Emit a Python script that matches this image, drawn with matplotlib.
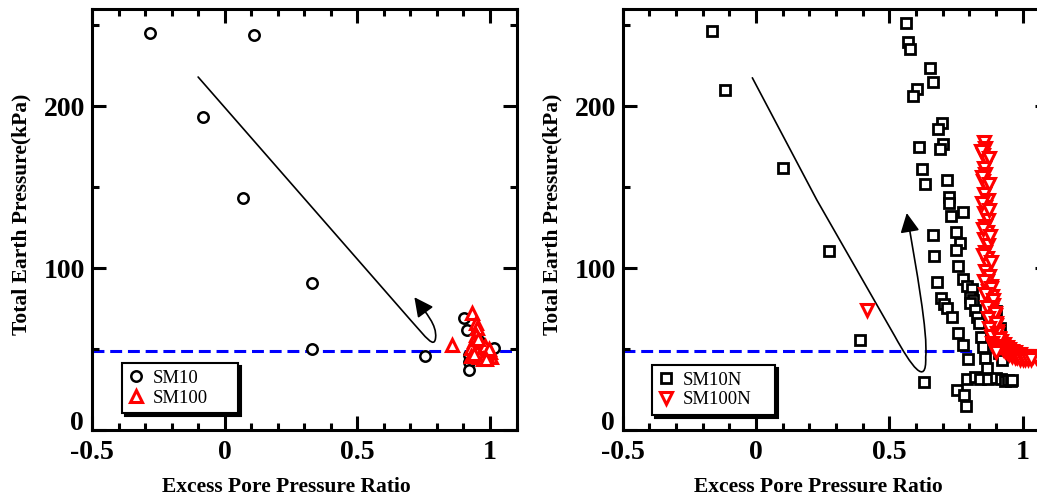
import matplotlib
matplotlib.use("Agg")
import matplotlib.pyplot as plt
from matplotlib.path import Path
from matplotlib.patches import FancyArrowPatch
from matplotlib.ticker import MultipleLocator, FuncFormatter

plt.rcParams['font.family'] = ['Liberation Serif', 'DejaVu Serif']
plt.rcParams['axes.unicode_minus'] = False

# ---------------- data ----------------
sm10_x = [-0.283, 0.109, -0.083, 0.068, 0.328, 0.328, 0.754, 0.902, 0.915, 0.921, 0.921,
          0.921, 0.95, 0.97, 0.99, 1.0, 1.015, 0.96, 0.98]
sm10_y = [244.9, 243.7, 193.6, 143.5, 90.9, 50.1, 45.8, 69.1, 61.8, 46.4, 42.2,
          37.1, 52, 50, 48, 49, 50.5, 55, 45]

sm100_x = [0.858, 0.934, 0.946, 0.952, 0.946, 0.94, 0.927, 0.965, 0.984, 1.003,
           0.95, 0.97, 0.99, 0.96, 0.98, 1.0, 0.93, 0.955, 0.975, 0.995, 0.94, 0.985]
sm100_y = [52.6, 72.2, 66, 62.9, 58.7, 55, 50.5, 51.5, 47.4, 45.3,
           48, 49, 46, 45, 52, 48, 46, 56, 44, 50, 47, 44]

sm10n_x = [-0.166, -0.116, 0.102, 0.275, 0.39, 0.631,
           0.561, 0.571, 0.577, 0.652, 0.662, 0.605, 0.587, 0.696, 0.684, 0.612, 0.702, 0.69,
           0.621, 0.634, 0.717, 0.725, 0.725, 0.775, 0.73, 0.663, 0.75, 0.765, 0.75, 0.667,
           0.759, 0.678, 0.775, 0.79, 0.809, 0.694, 0.705, 0.715, 0.802, 0.815, 0.802, 0.82,
           0.734, 0.83, 0.9, 0.837, 0.915, 0.759, 0.843, 0.903, 0.777, 0.852, 0.90, 0.909,
           0.796, 0.859, 0.921, 0.865, 0.79, 0.82, 0.84, 0.871, 0.90, 0.92, 0.935, 0.946,
           0.955, 0.96, 0.753, 0.78, 0.786]
sm10n_y = [246.3, 209.8, 161.8, 110.7, 55.7, 29.5,
           251.5, 239.5, 235.4, 223.3, 215, 210.3, 206.1, 189.7, 185.9, 174.6, 176.9, 173.8,
           161.2, 151.9, 154.6, 143.9, 140.2, 134.4, 132, 120.6, 122.3, 115.5, 111.3, 107.2,
           101, 91.1, 93.2, 89, 87, 81.8, 78, 75.3, 82.4, 80, 78.3, 74,
           70, 70, 73.6, 66, 63.3, 60.2, 57.7, 56.7, 52.6, 51.5, 52, 47.4,
           43.7, 44.3, 43.3, 38, 31.5, 33, 31.5, 31.5, 32, 31.5, 30.5, 30.9,
           30.5, 31, 24.7, 21.6, 14.8]

sm100n_x = [0.855, 0.86, 0.85, 0.865, 0.855, 0.86, 0.85, 0.865, 0.855, 0.87, 0.86, 0.855,
            0.87, 0.86, 0.865, 0.855, 0.87, 0.86, 0.865, 0.87, 0.86, 0.875,
            0.865, 0.88, 0.87, 0.885, 0.875, 0.89, 0.88, 0.895, 0.885, 0.9, 0.89, 0.905,
            0.895, 0.91, 0.92, 0.905, 0.93, 0.915, 0.94, 0.925, 0.95, 0.935, 0.96, 0.945,
            0.97, 0.955, 0.98, 0.99, 1.0, 0.975, 1.01, 1.02, 1.03, 1.04, 1.05, 0.415,
            0.845, 0.875, 0.848, 0.872, 0.846, 0.874, 0.85, 0.878, 0.852, 0.88, 0.855, 0.882,
            0.86, 0.888, 0.865, 0.895, 0.87, 0.9, 0.875, 0.905, 0.88, 0.912, 0.885, 0.92,
            0.89, 0.93, 0.895, 0.94, 0.9, 0.95, 0.96, 0.97, 0.98, 0.99, 1.0, 1.01, 1.02, 1.03]
sm100n_y = [178, 174, 170, 166, 162, 158, 154, 150, 146, 142, 138, 134,
            130, 126, 122, 118, 114, 110, 106, 102, 98, 95,
            92, 89, 86, 83, 80, 77, 74, 71, 68, 65, 63, 61,
            59, 57, 55, 54, 53, 52, 51, 50, 50, 49, 49, 48,
            48, 47, 47, 47, 46, 46, 46, 46, 45.5, 45.5, 45, 74.2,
            172, 168, 156, 152, 140, 136, 124, 120, 108, 104, 92, 88,
            84, 80, 76, 72, 69, 66, 63, 60, 58, 56, 54, 52,
            52, 50, 50, 48, 48, 47, 46, 45, 45, 44, 44, 44, 44, 44]

ref_level = 49

# trend path control points (data coords)
left_path_pts = [(-0.10, 218), (0.70, 68), (0.76, 57), (0.79, 50), (0.795, 57),
                 (0.80, 65), (0.76, 72), (0.715, 82)]
left_path_codes = [Path.MOVETO, Path.LINETO, Path.CURVE4, Path.CURVE4, Path.CURVE4,
                   Path.CURVE4, Path.CURVE4, Path.CURVE4]
right_path_pts = [(-0.014, 217.5), (0.228, 142), (0.52, 58), (0.58, 40), (0.64, 26),
                  (0.636, 45), (0.645, 60), (0.60, 100), (0.565, 134)]
right_path_codes = [Path.MOVETO, Path.LINETO, Path.LINETO, Path.CURVE4, Path.CURVE4,
                    Path.CURVE4, Path.CURVE4, Path.CURVE4, Path.CURVE4]

xlim = (-0.5, 1.1)
ylim = (0, 260)

# ---------------- figure ----------------
fig = plt.figure(figsize=(10.37, 4.97), dpi=100)
axL = fig.add_axes([0.0887, 0.1348, 0.4094, 0.8471])
axR = fig.add_axes([0.6005, 0.1348, 0.4115, 0.8471])

ms = 7.5
mew = 1.8


def yfmt(v, p):
    # the zero label is drawn separately, slightly raised as in the original
    return '' if abs(v) < 1e-9 else '%g' % round(v, 3)


def style(ax):
    ax.set_xlim(*xlim)
    ax.set_ylim(*ylim)
    ax.xaxis.set_major_locator(MultipleLocator(0.5))
    ax.xaxis.set_minor_locator(MultipleLocator(0.1))
    ax.yaxis.set_major_locator(MultipleLocator(100))
    ax.yaxis.set_minor_locator(MultipleLocator(50))
    ax.xaxis.set_major_formatter(FuncFormatter(lambda v, p: '%g' % round(v, 3)))
    ax.yaxis.set_major_formatter(FuncFormatter(yfmt))
    ax.tick_params(which='both', direction='in', top=True, right=True, width=2.2)
    ax.tick_params(which='major', length=10, labelsize=20, pad=5)
    ax.tick_params(axis='x', which='major', pad=7)
    ax.tick_params(which='minor', length=5)
    for lab in ax.get_xticklabels() + ax.get_yticklabels():
        lab.set_fontweight('bold')
    ax.annotate('0', xy=(0, ylim[0]), xycoords=('axes fraction', 'data'),
                xytext=(-6, 5), textcoords='offset points', ha='right', va='center',
                fontsize=20, fontweight='bold')
    for s in ax.spines.values():
        s.set_linewidth(2.2)
    ax.set_xlabel('Excess Pore Pressure Ratio', fontsize=15.5, fontweight='bold', va='center')
    ax.set_ylabel('Total Earth Pressure(kPa)', fontsize=15.5, fontweight='bold', va='center')
    ax.xaxis.set_label_coords(0.459, -0.135)
    ax.yaxis.set_label_coords(-0.165, 0.513)
    ax.axhline(ref_level, color='#0000ff', lw=2.2, dashes=(3.9, 1.9), zorder=1)


style(axL)
style(axR)

axL.plot(sm10_x, sm10_y, 'o', ms=ms, mfc='white', mec='black', mew=mew, label='SM10', zorder=3)
axL.plot(sm100_x, sm100_y, '^', ms=ms + 0.5, mfc='white', mec='red', mew=mew + 0.4, label='SM100', zorder=4)

axR.plot(sm10n_x, sm10n_y, 's', ms=ms, mfc='white', mec='black', mew=mew + 0.2, label='SM10N', zorder=3)
axR.plot(sm100n_x, sm100n_y, 'v', ms=ms + 0.5, mfc='white', mec='red', mew=mew + 0.4, label='SM100N', zorder=4)

for ax, pts, codes in [(axL, left_path_pts, left_path_codes), (axR, right_path_pts, right_path_codes)]:
    arr = FancyArrowPatch(path=Path(pts, codes), arrowstyle='-|>,head_length=0.9,head_width=0.45',
                          mutation_scale=13, color='black', lw=1.2, zorder=2)
    ax.add_patch(arr)

for ax, anchor in [(axL, (0.0706, 0.040, 0.273, 0.1)), (axR, (0.068, 0.0356, 0.289, 0.1))]:
    leg = ax.legend(loc='lower left', bbox_to_anchor=anchor, borderaxespad=0, mode='expand',
                    prop={'family': 'Liberation Serif', 'size': 13.5}, frameon=True,
                    fancybox=False, shadow={'color': 'black', 'alpha': 1},
                    handletextpad=0.5, handlelength=0.8, borderpad=0.35, labelspacing=0.15,
                    framealpha=1)
    leg.get_frame().set_edgecolor('black')
    leg.get_frame().set_linewidth(1.5)

fig.savefig('out.png', dpi=100)
